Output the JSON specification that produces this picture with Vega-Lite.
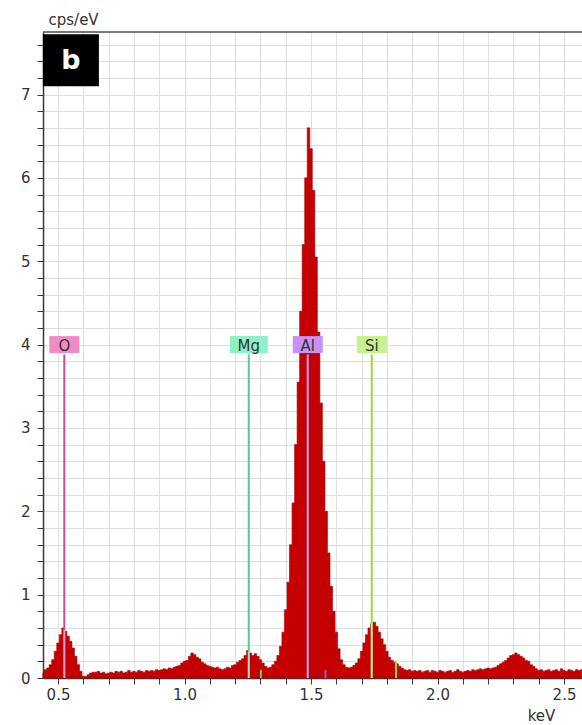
{
  "$schema": "https://vega.github.io/schema/vega-lite/v6.json",
  "width": 539,
  "height": 646,
  "autosize": {"type": "none"},
  "padding": {"left": 43, "top": 32, "right": 0, "bottom": 47},
  "background": "white",
  "config": {
    "font": "DejaVu Sans",
    "view": {"stroke": null},
    "axis": {
      "domainColor": "#3a3a3a",
      "domainWidth": 1.5,
      "tickColor": "#3a3a3a",
      "tickSize": 6,
      "gridColor": "#dedede",
      "gridWidth": 1,
      "labelColor": "#333333",
      "labelFontSize": 15,
      "titleColor": "#333333",
      "titleFontSize": 15,
      "titleFontWeight": "normal"
    }
  },
  "datasets": {
    "spectrum": [
      {"keV": 0.44, "cps": 0.06}, {"keV": 0.45, "cps": 0.10}, {"keV": 0.46, "cps": 0.12}, {"keV": 0.47, "cps": 0.16},
      {"keV": 0.48, "cps": 0.22}, {"keV": 0.49, "cps": 0.32}, {"keV": 0.50, "cps": 0.42}, {"keV": 0.51, "cps": 0.52},
      {"keV": 0.52, "cps": 0.60}, {"keV": 0.53, "cps": 0.56}, {"keV": 0.54, "cps": 0.50}, {"keV": 0.55, "cps": 0.44},
      {"keV": 0.56, "cps": 0.36}, {"keV": 0.57, "cps": 0.26}, {"keV": 0.58, "cps": 0.16}, {"keV": 0.59, "cps": 0.08},
      {"keV": 0.60, "cps": 0.02}, {"keV": 0.61, "cps": 0.02}, {"keV": 0.62, "cps": 0.04}, {"keV": 0.63, "cps": 0.06},
      {"keV": 0.64, "cps": 0.07}, {"keV": 0.65, "cps": 0.07}, {"keV": 0.66, "cps": 0.08}, {"keV": 0.67, "cps": 0.06},
      {"keV": 0.68, "cps": 0.07}, {"keV": 0.69, "cps": 0.05}, {"keV": 0.70, "cps": 0.06}, {"keV": 0.71, "cps": 0.07},
      {"keV": 0.72, "cps": 0.06}, {"keV": 0.73, "cps": 0.08}, {"keV": 0.74, "cps": 0.07}, {"keV": 0.75, "cps": 0.08},
      {"keV": 0.76, "cps": 0.06}, {"keV": 0.77, "cps": 0.07}, {"keV": 0.78, "cps": 0.09}, {"keV": 0.79, "cps": 0.07},
      {"keV": 0.80, "cps": 0.08}, {"keV": 0.81, "cps": 0.07}, {"keV": 0.82, "cps": 0.09}, {"keV": 0.83, "cps": 0.08},
      {"keV": 0.84, "cps": 0.07}, {"keV": 0.85, "cps": 0.09}, {"keV": 0.86, "cps": 0.08}, {"keV": 0.87, "cps": 0.09},
      {"keV": 0.88, "cps": 0.08}, {"keV": 0.89, "cps": 0.10}, {"keV": 0.90, "cps": 0.09}, {"keV": 0.91, "cps": 0.10},
      {"keV": 0.92, "cps": 0.11}, {"keV": 0.93, "cps": 0.10}, {"keV": 0.94, "cps": 0.12}, {"keV": 0.95, "cps": 0.11},
      {"keV": 0.96, "cps": 0.13}, {"keV": 0.97, "cps": 0.14}, {"keV": 0.98, "cps": 0.15}, {"keV": 0.99, "cps": 0.18},
      {"keV": 1.00, "cps": 0.20}, {"keV": 1.01, "cps": 0.21}, {"keV": 1.02, "cps": 0.26}, {"keV": 1.03, "cps": 0.30},
      {"keV": 1.04, "cps": 0.28}, {"keV": 1.05, "cps": 0.25}, {"keV": 1.06, "cps": 0.23}, {"keV": 1.07, "cps": 0.19},
      {"keV": 1.08, "cps": 0.17}, {"keV": 1.09, "cps": 0.15}, {"keV": 1.10, "cps": 0.14}, {"keV": 1.11, "cps": 0.13},
      {"keV": 1.12, "cps": 0.12}, {"keV": 1.13, "cps": 0.13}, {"keV": 1.14, "cps": 0.11}, {"keV": 1.15, "cps": 0.10},
      {"keV": 1.16, "cps": 0.11}, {"keV": 1.17, "cps": 0.13}, {"keV": 1.18, "cps": 0.12}, {"keV": 1.19, "cps": 0.15},
      {"keV": 1.20, "cps": 0.16}, {"keV": 1.21, "cps": 0.19}, {"keV": 1.22, "cps": 0.21}, {"keV": 1.23, "cps": 0.23},
      {"keV": 1.24, "cps": 0.27}, {"keV": 1.25, "cps": 0.33}, {"keV": 1.26, "cps": 0.30}, {"keV": 1.27, "cps": 0.27},
      {"keV": 1.28, "cps": 0.29}, {"keV": 1.29, "cps": 0.26}, {"keV": 1.30, "cps": 0.22}, {"keV": 1.31, "cps": 0.18},
      {"keV": 1.32, "cps": 0.14}, {"keV": 1.33, "cps": 0.12}, {"keV": 1.34, "cps": 0.13}, {"keV": 1.35, "cps": 0.16},
      {"keV": 1.36, "cps": 0.20}, {"keV": 1.37, "cps": 0.27}, {"keV": 1.38, "cps": 0.38}, {"keV": 1.39, "cps": 0.55},
      {"keV": 1.40, "cps": 0.82}, {"keV": 1.41, "cps": 1.15}, {"keV": 1.42, "cps": 1.60}, {"keV": 1.43, "cps": 2.10},
      {"keV": 1.44, "cps": 2.80}, {"keV": 1.45, "cps": 3.55}, {"keV": 1.46, "cps": 4.40}, {"keV": 1.47, "cps": 5.20},
      {"keV": 1.48, "cps": 6.00}, {"keV": 1.49, "cps": 6.60}, {"keV": 1.50, "cps": 6.35}, {"keV": 1.51, "cps": 5.85},
      {"keV": 1.52, "cps": 5.05}, {"keV": 1.53, "cps": 4.15}, {"keV": 1.54, "cps": 3.30}, {"keV": 1.55, "cps": 2.60},
      {"keV": 1.56, "cps": 2.00}, {"keV": 1.57, "cps": 1.50}, {"keV": 1.58, "cps": 1.10}, {"keV": 1.59, "cps": 0.80},
      {"keV": 1.60, "cps": 0.55}, {"keV": 1.61, "cps": 0.35}, {"keV": 1.62, "cps": 0.22}, {"keV": 1.63, "cps": 0.16},
      {"keV": 1.64, "cps": 0.13}, {"keV": 1.65, "cps": 0.12}, {"keV": 1.66, "cps": 0.13}, {"keV": 1.67, "cps": 0.15},
      {"keV": 1.68, "cps": 0.18}, {"keV": 1.69, "cps": 0.23}, {"keV": 1.70, "cps": 0.32}, {"keV": 1.71, "cps": 0.42},
      {"keV": 1.72, "cps": 0.52}, {"keV": 1.73, "cps": 0.60}, {"keV": 1.74, "cps": 0.65}, {"keV": 1.75, "cps": 0.67},
      {"keV": 1.76, "cps": 0.62}, {"keV": 1.77, "cps": 0.55}, {"keV": 1.78, "cps": 0.47}, {"keV": 1.79, "cps": 0.40},
      {"keV": 1.80, "cps": 0.32}, {"keV": 1.81, "cps": 0.25}, {"keV": 1.82, "cps": 0.21}, {"keV": 1.83, "cps": 0.19},
      {"keV": 1.84, "cps": 0.17}, {"keV": 1.85, "cps": 0.14}, {"keV": 1.86, "cps": 0.12}, {"keV": 1.87, "cps": 0.10},
      {"keV": 1.88, "cps": 0.09}, {"keV": 1.89, "cps": 0.10}, {"keV": 1.90, "cps": 0.08}, {"keV": 1.91, "cps": 0.09},
      {"keV": 1.92, "cps": 0.08}, {"keV": 1.93, "cps": 0.09}, {"keV": 1.94, "cps": 0.07}, {"keV": 1.95, "cps": 0.08},
      {"keV": 1.96, "cps": 0.09}, {"keV": 1.97, "cps": 0.07}, {"keV": 1.98, "cps": 0.09}, {"keV": 1.99, "cps": 0.08},
      {"keV": 2.00, "cps": 0.07}, {"keV": 2.01, "cps": 0.09}, {"keV": 2.02, "cps": 0.08}, {"keV": 2.03, "cps": 0.07},
      {"keV": 2.04, "cps": 0.08}, {"keV": 2.05, "cps": 0.09}, {"keV": 2.06, "cps": 0.07}, {"keV": 2.07, "cps": 0.08},
      {"keV": 2.08, "cps": 0.10}, {"keV": 2.09, "cps": 0.08}, {"keV": 2.10, "cps": 0.07}, {"keV": 2.11, "cps": 0.08},
      {"keV": 2.12, "cps": 0.09}, {"keV": 2.13, "cps": 0.08}, {"keV": 2.14, "cps": 0.10}, {"keV": 2.15, "cps": 0.09},
      {"keV": 2.16, "cps": 0.10}, {"keV": 2.17, "cps": 0.11}, {"keV": 2.18, "cps": 0.10}, {"keV": 2.19, "cps": 0.11},
      {"keV": 2.20, "cps": 0.12}, {"keV": 2.21, "cps": 0.11}, {"keV": 2.22, "cps": 0.12}, {"keV": 2.23, "cps": 0.13},
      {"keV": 2.24, "cps": 0.15}, {"keV": 2.25, "cps": 0.17}, {"keV": 2.26, "cps": 0.19}, {"keV": 2.27, "cps": 0.21},
      {"keV": 2.28, "cps": 0.24}, {"keV": 2.29, "cps": 0.27}, {"keV": 2.30, "cps": 0.28}, {"keV": 2.31, "cps": 0.30},
      {"keV": 2.32, "cps": 0.28}, {"keV": 2.33, "cps": 0.26}, {"keV": 2.34, "cps": 0.24}, {"keV": 2.35, "cps": 0.21},
      {"keV": 2.36, "cps": 0.20}, {"keV": 2.37, "cps": 0.16}, {"keV": 2.38, "cps": 0.14}, {"keV": 2.39, "cps": 0.11},
      {"keV": 2.40, "cps": 0.09}, {"keV": 2.41, "cps": 0.10}, {"keV": 2.42, "cps": 0.08}, {"keV": 2.43, "cps": 0.09},
      {"keV": 2.44, "cps": 0.10}, {"keV": 2.45, "cps": 0.08}, {"keV": 2.46, "cps": 0.09}, {"keV": 2.47, "cps": 0.10},
      {"keV": 2.48, "cps": 0.08}, {"keV": 2.49, "cps": 0.11}, {"keV": 2.50, "cps": 0.09}, {"keV": 2.51, "cps": 0.08},
      {"keV": 2.52, "cps": 0.10}, {"keV": 2.53, "cps": 0.09}, {"keV": 2.54, "cps": 0.08}, {"keV": 2.55, "cps": 0.10},
      {"keV": 2.56, "cps": 0.09}, {"keV": 2.57, "cps": 0.10}
    ],
    "lines": [
      {"element": "O", "keV": 0.525, "inner": 0.58},
      {"element": "Mg", "keV": 1.254, "inner": 0.32},
      {"element": "Al", "keV": 1.487, "inner": 3.88},
      {"element": "Si", "keV": 1.740, "inner": 0.66}
    ],
    "kbeta": [
      {"element": "Mg", "keV": 1.302, "h": 0.1},
      {"element": "Al", "keV": 1.557, "h": 0.1},
      {"element": "Si", "keV": 1.836, "h": 0.2}
    ],
    "panel": [{"tag": "b"}]
  },
  "layer": [
    {
      "data": {"name": "spectrum"},
      "mark": {"type": "area", "interpolate": "step", "fill": "#c40000", "stroke": "#a50000", "strokeWidth": 0.6},
      "encoding": {
        "x": {
          "field": "keV", "type": "quantitative",
          "scale": {"domain": [0.4407, 2.571], "nice": false, "zero": false},
          "axis": {
            "values": [0.5, 0.6, 0.7, 0.8, 0.9, 1.0, 1.1, 1.2, 1.3, 1.4, 1.5, 1.6, 1.7, 1.8, 1.9, 2.0, 2.1, 2.2, 2.3, 2.4, 2.5],
            "tickCount": 100,
            "labelExpr": "abs(datum.value * 2 - round(datum.value * 2)) < 0.01 ? format(datum.value, '.1f') : ''",
            "labelPadding": 3,
            "title": "keV",
            "titleX": 498,
            "titleY": 42,
            "titleAlign": "center",
            "titleBaseline": "alphabetic"
          }
        },
        "y": {
          "field": "cps", "type": "quantitative",
          "scale": {"domain": [0, 7.75], "nice": false},
          "axis": {
            "values": [0, 0.2, 0.4, 0.6, 0.8, 1, 1.2, 1.4, 1.6, 1.8, 2, 2.2, 2.4, 2.6, 2.8, 3, 3.2, 3.4, 3.6, 3.8, 4, 4.2, 4.4, 4.6, 4.8, 5, 5.2, 5.4, 5.6, 5.8, 6, 6.2, 6.4, 6.6, 6.8, 7, 7.2, 7.4, 7.6],
            "tickCount": 100,
            "labelExpr": "abs(datum.value - round(datum.value)) < 0.01 ? format(datum.value, 'd') : ''",
            "labelPadding": 7,
            "title": "cps/eV",
            "titleAngle": 0,
            "titleAlign": "left",
            "titleBaseline": "alphabetic",
            "titleX": 5,
            "titleY": -8
          }
        }
      }
    },
    {
      "data": {"name": "panel"},
      "mark": {"type": "rule", "color": "#4a4a4a", "strokeWidth": 1.5},
      "encoding": {"y": {"datum": 7.75, "type": "quantitative"}}
    },
    {
      "data": {"name": "lines"},
      "mark": {"type": "rule", "strokeWidth": 2},
      "encoding": {
        "x": {"field": "keV", "type": "quantitative"},
        "y": {"datum": 0, "type": "quantitative"},
        "y2": {"datum": 3.88},
        "stroke": {
          "field": "element", "type": "nominal",
          "scale": {"domain": ["O", "Mg", "Al", "Si"], "range": ["#cc4a9c", "#4fd08f", "#9a55cc", "#98da3e"]},
          "legend": null
        }
      }
    },
    {
      "data": {"name": "lines"},
      "mark": {"type": "rule", "strokeWidth": 2, "color": "white", "opacity": 0.45},
      "encoding": {
        "x": {"field": "keV", "type": "quantitative"},
        "y": {"field": "inner", "type": "quantitative"},
        "y2": {"datum": 0}
      }
    },
    {
      "data": {"name": "kbeta"},
      "mark": {"type": "rule", "strokeWidth": 2},
      "encoding": {
        "x": {"field": "keV", "type": "quantitative"},
        "y": {"field": "h", "type": "quantitative"},
        "y2": {"datum": 0},
        "stroke": {"field": "element", "type": "nominal", "legend": null}
      }
    },
    {
      "data": {"name": "lines"},
      "transform": [{"filter": "datum.element !== 'Mg'"}],
      "mark": {"type": "point", "filled": true, "opacity": 1, "strokeWidth": 0, "shape": "M-1,-0.567H1V0.567H-1Z", "size": 900},
      "encoding": {
        "x": {"field": "keV", "type": "quantitative"},
        "y": {"datum": 4, "type": "quantitative"},
        "fill": {
          "field": "element", "type": "nominal",
          "scale": {"domain": ["O", "Mg", "Al", "Si"], "range": ["#f28ac6", "#8ff2c6", "#c892f4", "#c6f28e"]},
          "legend": null
        }
      }
    },
    {
      "data": {"name": "lines"},
      "transform": [{"filter": "datum.element === 'Mg'"}],
      "mark": {"type": "point", "filled": true, "opacity": 1, "strokeWidth": 0, "shape": "M-1,-0.447H1V0.447H-1Z", "size": 1444},
      "encoding": {
        "x": {"field": "keV", "type": "quantitative"},
        "y": {"datum": 4, "type": "quantitative"},
        "fill": {"field": "element", "type": "nominal", "legend": null}
      }
    },
    {
      "data": {"name": "lines"},
      "mark": {"type": "text", "fontSize": 15, "color": "#333333", "baseline": "middle", "align": "center", "dy": 1},
      "encoding": {
        "x": {"field": "keV", "type": "quantitative"},
        "y": {"datum": 4, "type": "quantitative"},
        "text": {"field": "element"}
      }
    },
    {
      "data": {"name": "panel"},
      "mark": {"type": "point", "filled": true, "opacity": 1, "strokeWidth": 0, "color": "black", "shape": "M-1,-0.929H1V0.929H-1Z", "size": 3136},
      "encoding": {
        "x": {"datum": 0.551, "type": "quantitative"},
        "y": {"datum": 7.41, "type": "quantitative"}
      }
    },
    {
      "data": {"name": "panel"},
      "mark": {"type": "text", "fontSize": 27, "fontWeight": "bold", "color": "white", "baseline": "middle", "align": "center", "dy": 1},
      "encoding": {
        "x": {"datum": 0.551, "type": "quantitative"},
        "y": {"datum": 7.41, "type": "quantitative"},
        "text": {"field": "tag"}
      }
    }
  ]
}
